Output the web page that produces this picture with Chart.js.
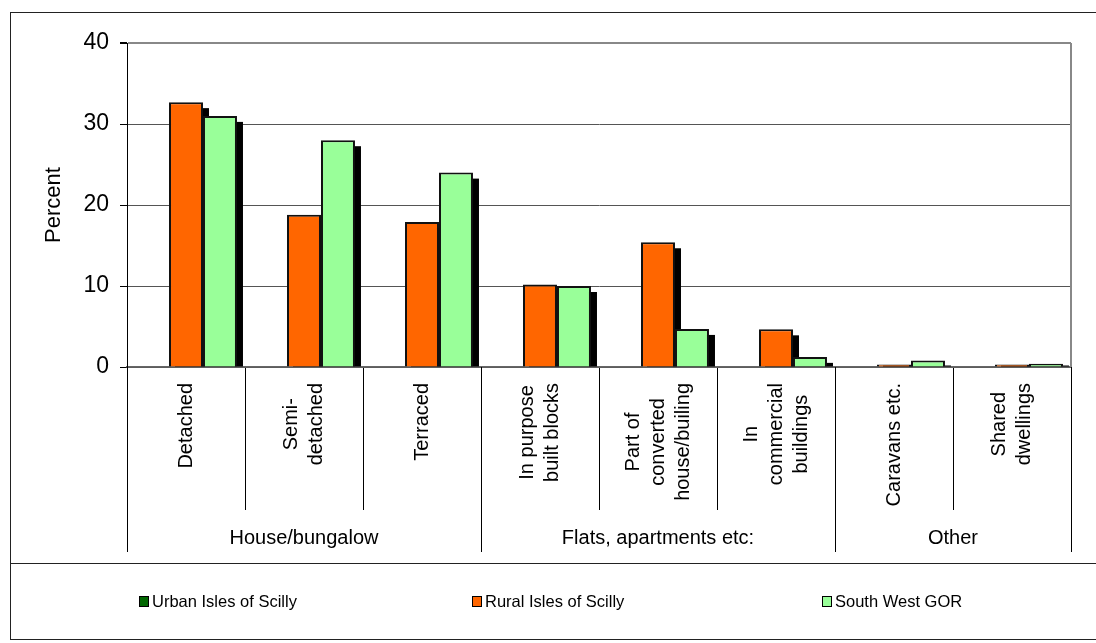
<!DOCTYPE html>
<html>
<head>
<meta charset="utf-8">
<script src="https://cdn.jsdelivr.net/npm/chart.js@4.4.1/dist/chart.umd.min.js"></script>
<style>
html,body{margin:0;padding:0;background:#fff;}
#wrap{position:relative;width:1096px;height:643px;overflow:hidden;font-family:"Liberation Sans",Arial,sans-serif;}
#frame{position:absolute;left:10px;top:12px;width:1100px;height:628px;border:1px solid #222;box-sizing:border-box;}
#sep{position:absolute;left:10px;top:563px;width:1100px;height:0;border-top:1px solid #222;}
#chart{position:absolute;left:0;top:0;}
.lg{position:absolute;top:591px;height:20px;display:flex;align-items:center;font-size:16.5px;color:#000;white-space:nowrap;}
.lg span.box{display:inline-block;width:8px;height:9px;border:1.5px solid #000;margin-right:3px;}
</style>
</head>
<body>
<div id="wrap">
  <div id="frame"></div>
  <div id="sep"></div>
  <canvas id="chart" width="1096" height="643"></canvas>
  <div id="legend"></div>
</div>
<script>
// ---- data ----
const categories = [
  ['Detached'],
  ['Semi-', 'detached'],
  ['Terraced'],
  ['In purpose', 'built blocks'],
  ['Part of', 'converted', 'house/builing'],
  ['In', 'commercial', 'buildings'],
  ['Caravans etc.'],
  ['Shared', 'dwellings']
];
const groupLabels = ['House/bungalow', 'Flats, apartments etc:', 'Other'];
const groupSizes = [3, 3, 2];
const seriesNames = ['Urban Isles of Scilly', 'Rural Isles of Scilly', 'South West GOR'];
const urbanValues = [0, 0, 0, 0, 0, 0, 0, 0];
const ruralValues = [32.7, 18.8, 17.9, 10.2, 15.4, 4.65, 0.3, 0.3];
const southWestValues = [31.0, 28.0, 24.0, 10.0, 4.7, 1.25, 0.8, 0.4];
const yTicks = [0, 10, 20, 30, 40];
const seriesColors = ['#006600', '#FF6600', '#99FF99'];
const yTitle = 'Percent';

const FONT = '"Liberation Sans", Arial, sans-serif';

// ---- plugins ----
const shadowPlugin = {
  id: 'barShadow',
  beforeDatasetsDraw(chart) {
    const ctx = chart.ctx;
    ctx.save();
    ctx.fillStyle = '#000';
    chart.data.datasets.forEach((ds, i) => {
      const meta = chart.getDatasetMeta(i);
      meta.data.forEach((el, j) => {
        if (!(ds.data[j] > 0)) return;
        const p = el.getProps(['x', 'y', 'base', 'width'], true);
        const left = p.x - p.width / 2 + 6;
        const top = Math.min(p.y + 6, p.base - 1);
        ctx.fillRect(left, top, p.width, p.base - top);
      });
    });
    ctx.restore();
  }
};

const axisPlugin = {
  id: 'hierAxis',
  afterDraw(chart) {
    const ctx = chart.ctx;
    const xs = chart.scales.x;
    const area = chart.chartArea;
    ctx.save();
    // plot right border
    ctx.strokeStyle = '#888';
    ctx.lineWidth = 2;
    ctx.beginPath();
    ctx.moveTo(area.right, area.top);
    ctx.lineTo(area.right, area.bottom);
    ctx.stroke();

    const step = xs.getPixelForValue(1) - xs.getPixelForValue(0);
    // category labels
    ctx.fillStyle = '#000';
    ctx.font = '20px ' + FONT;
    ctx.textAlign = 'center';
    ctx.textBaseline = 'middle';
    const lineH = 25;
    const labelTop = area.bottom + 16;
    categories.forEach((lines, i) => {
      const cx = xs.getPixelForValue(i);
      const maxW = Math.max(...lines.map(l => ctx.measureText(l).width));
      const cy = labelTop + maxW / 2;
      const n = lines.length;
      lines.forEach((l, k) => {
        const lx = cx + (k - (n - 1) / 2) * lineH;
        ctx.save();
        ctx.translate(lx, cy);
        ctx.rotate(-Math.PI / 2);
        ctx.fillText(l, 0, 0);
        ctx.restore();
      });
    });
    // group separators and labels
    ctx.strokeStyle = '#000';
    ctx.lineWidth = 1;
    let start = 0;
    const lineBottom = area.bottom + 185;
    const bounds = [start];
    groupSizes.forEach(s => { start += s; bounds.push(start); });
    bounds.forEach(b => {
      const x = Math.round(xs.getPixelForValue(b) - step / 2) + 0.5;
      ctx.beginPath();
      ctx.moveTo(x, area.bottom);
      ctx.lineTo(x, lineBottom);
      ctx.stroke();
    });
    groupLabels.forEach((g, i) => {
      const x0 = xs.getPixelForValue(bounds[i]) - step / 2;
      const x1 = xs.getPixelForValue(bounds[i + 1]) - step / 2;
      ctx.fillText(g, (x0 + x1) / 2, area.bottom + 171);
    });
    ctx.restore();
  }
};

const datasetsSrc = [urbanValues, ruralValues, southWestValues];

new Chart(document.getElementById('chart'), {
  type: 'bar',
  data: {
    labels: categories.map(c => c.join(' ')),
    datasets: datasetsSrc.map((vals, i) => ({
      label: seriesNames[i],
      data: vals,
      backgroundColor: seriesColors[i],
      borderColor: '#111',
      borderWidth: 2,
      borderSkipped: 'start',
      categoryPercentage: 0.864,
      barPercentage: 1.0
    }))
  },
  options: {
    responsive: false,
    animation: false,
    devicePixelRatio: 1,
    layout: { padding: { left: 0, top: 43, right: 25, bottom: 91 } },
    plugins: { legend: { display: false }, tooltip: { enabled: false } },
    scales: {
      x: {
        grid: { drawOnChartArea: false, offset: true, tickLength: 143, color: '#000', lineWidth: 1 },
        border: { display: true, color: '#666', width: 1.5 },
        ticks: { display: false },
        afterFit: s => { s.height = 185; }
      },
      y: {
        min: yTicks[0],
        max: yTicks[yTicks.length - 1],
        afterBuildTicks: s => { s.ticks = yTicks.map(v => ({ value: v })); },
        ticks: { font: { size: 23, family: FONT }, color: '#000', padding: 11 },
        grid: {
          color: c => c.tick && c.tick.value === 40 ? '#888' : '#555',
          lineWidth: c => c.tick && c.tick.value === 40 ? 2 : 1,
          tickLength: 7,
          tickColor: '#000'
        },
        border: { display: true, color: '#000', width: 1 },
        title: { display: true, text: yTitle, font: { size: 22, family: FONT }, color: '#000', padding: { top: 41, bottom: 0 } },
        afterFit: s => { s.width = 127; }
      }
    }
  },
  plugins: [shadowPlugin, axisPlugin]
});

// legend (HTML, built from series arrays)
const legendLefts = [139, 472, 822];
const lg = document.getElementById('legend');
seriesNames.forEach((n, i) => {
  const d = document.createElement('div');
  d.className = 'lg';
  d.style.left = legendLefts[i] + 'px';
  const b = document.createElement('span');
  b.className = 'box';
  b.style.background = seriesColors[i];
  d.appendChild(b);
  d.appendChild(document.createTextNode(n));
  lg.appendChild(d);
});
</script>
</body>
</html>
